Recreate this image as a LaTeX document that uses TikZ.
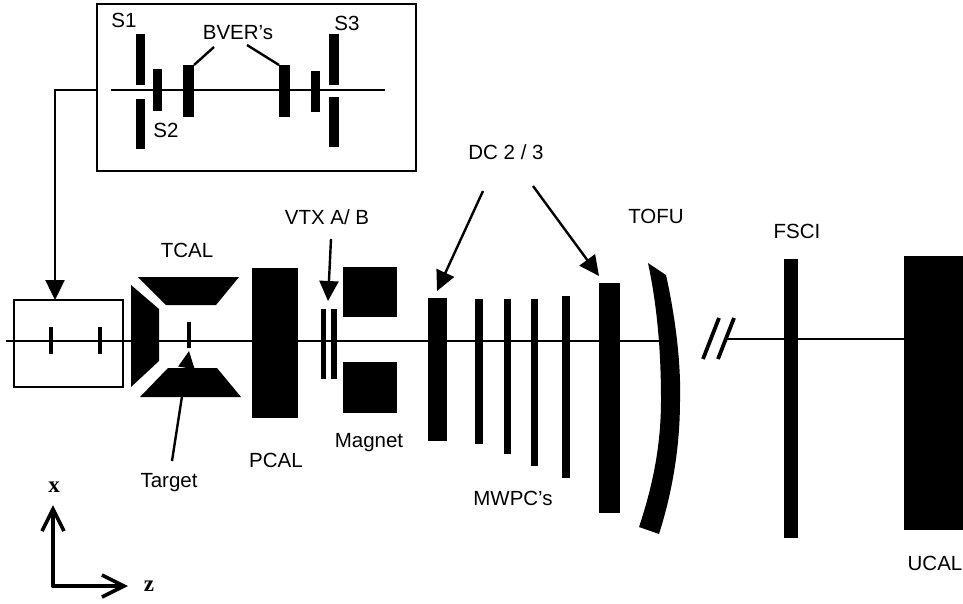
\documentclass[tikz,border=0pt]{standalone}
\usepackage{fontspec}
\setmainfont{Liberation Sans}
\newfontfamily\axisfont{Liberation Serif}
\usetikzlibrary{arrows.meta}
\newcommand{\slab}[5]{%
  \pgfmathsetmacro{\slabcx}{(#2+#4)/2}%
  \pgfmathsetmacro{\slabcy}{(#3+#5)/2}%
  \pgfmathsetmacro{\slabw}{#4-#2}%
  \pgfmathsetmacro{\slabh}{#5-#3}%
  \node[slabnode,minimum width=\slabw pt,minimum height=\slabh pt] (#1) at (\slabcx,\slabcy) {};%
}
\tikzset{
  slabnode/.style={fill=black,draw=none,inner sep=0pt,outer sep=0pt},
  lbl/.style={inner sep=0pt,font=\fontsize{20.5}{23}\selectfont},
  axlbl/.style={inner sep=0pt,font=\axisfont\bfseries\fontsize{23}{25}\selectfont},
  wire/.style={line width=2.4pt},
  headed/.style={line width=2.4pt,-{Triangle[length=20pt,width=19pt]}},
  axisarrow/.style={line width=3.6pt,line cap=round,-{Straight Barb[length=22pt,width=22pt,line width=3.6pt]}},
  framebox/.style={draw=black,line width=2.4pt,fill=none,inner sep=0pt,outer sep=0pt}
}
\begin{document}
\begin{tikzpicture}[x=1pt,y=-1pt]
\useasboundingbox (0,0) rectangle (963,603);
% inset frame
\node[framebox,minimum width=319pt,minimum height=167pt] (inset) at (256.5,87.5) {};
\coordinate (insetL) at (97,90);
\coordinate (beamA) at (111,90);
\coordinate (beamB) at (385,90);
\draw[wire] (beamA) -- (beamB);
\slab{sOneA}{136}{34}{145}{85}
\slab{sOneB}{136}{99}{145}{149}
\slab{sTwo}{153}{69}{162}{111}
\slab{bverL}{183}{65}{194}{117}
\slab{bverR}{279}{65}{290}{117}
\slab{sFour}{311}{71}{320}{112}
\slab{sThreeA}{329}{34}{339}{85}
\slab{sThreeB}{329}{97}{339}{147}
\node[lbl] (lSone) at (124,20) {S1};
\node[lbl] (lSthree) at (347,23) {S3};
\node[lbl] (lBver) at (238,33) {BVER's};
\node[lbl] (lStwo) at (166,130) {S2};
\coordinate (bvLa) at (214,47);
\coordinate (bvRa) at (247,45);
\draw[wire] (bvLa) -- (bverL.north east);
\draw[wire] (bvRa) -- (bverR.north west);
% upstream box
\node[framebox,minimum width=109pt,minimum height=87pt] (ubox) at (68.5,343.5) {};
\coordinate (bendA) at (55,90);
\coordinate (uboxTop) at (55,300);
\draw[headed] (insetL) -- (bendA) -- (uboxTop);
% main beam
\coordinate (mainA) at (6,341);
\coordinate (mainB) at (660,341);
\draw[wire] (mainA) -- (mainB);
\coordinate (mainC) at (727,339);
\coordinate (mainD) at (905,339);
\draw[wire] (mainC) -- (mainD);
\slab{uA}{49}{327}{53}{354}
\slab{uB}{98}{327}{102}{354}
\slab{target}{187}{322}{191}{348}
% TCAL
\fill (138,277) -- (239,277) -- (216,305) -- (166,305) -- cycle;
\fill (131,285) -- (159,309) -- (159,361) -- (131,387) -- cycle;
\fill (140,397) -- (241,397) -- (217,368) -- (168,368) -- cycle;
\node[lbl] (lTcal) at (187,250) {TCAL};
% target arrow
\coordinate (tgtA) at (172,461);
\coordinate (tgtB) at (189,351);
\draw[line width=2.4pt,-{Triangle[length=17pt,width=16pt]}] (tgtA) -- (tgtB);
\node[lbl] (lTarget) at (169,483) {Target};
% PCAL, VTX, magnet
\slab{pcal}{252}{268}{298}{418}
\node[lbl] (lPcal) at (276,460) {PCAL};
\slab{vtxA}{321}{309}{326}{379}
\slab{vtxB}{331}{309}{337}{379}
\node[lbl] (lVtx) at (327,217) {VTX A/ B};
\coordinate (vtxT) at (331,239);
\coordinate (vtxH) at (328,301);
\draw[headed] (vtxT) -- (vtxH);
\slab{magA}{343}{267}{397}{317}
\slab{magB}{343}{362}{397}{413}
\node[lbl] (lMag) at (369,443) {Magnet};
% DC and MWPC
\slab{dcOne}{428}{298}{447}{441}
\slab{mA}{475}{299}{483}{444}
\slab{mB}{504}{299}{511}{454}
\slab{mC}{531}{299}{538}{466}
\slab{mD}{562}{296}{570}{478}
\slab{dcTwo}{599}{283}{620}{513}
\node[lbl] (lDc) at (506,152) {DC 2 / 3};
\node[lbl] (lMw) at (513,498) {MWPC's};
\coordinate (dcLa) at (483,191);
\coordinate (dcLb) at (437,291);
\coordinate (dcRa) at (533,186);
\coordinate (dcRb) at (599,276);
\draw[headed] (dcLa) -- (dcLb);
\draw[headed] (dcRa) -- (dcRb);
% TOFU
\fill (648,263) -- (666,275) .. controls (676,320) and (681,365) .. (680,400)
  .. controls (680,445) and (673,490) .. (659,534) -- (639,527)
  .. controls (653,485) and (661,445) .. (661,400)
  .. controls (661,350) and (657,305) .. cycle;
\node[lbl] (lTofu) at (656,216) {TOFU};
% break mark
\coordinate (brA) at (719,318);
\coordinate (brB) at (703,359);
\coordinate (brC) at (734,318);
\coordinate (brD) at (718,359);
\draw[line width=3.8pt] (brA) -- (brB);
\draw[line width=3.8pt] (brC) -- (brD);
% FSCI, UCAL
\slab{fsci}{784}{259}{798}{538}
\node[lbl] (lFsci) at (797,231) {FSCI};
\slab{ucal}{904}{256}{963}{530}
\node[lbl] (lUcal) at (935,563) {UCAL};
% axes
\coordinate (axO) at (53,586);
\coordinate (axX) at (53,505);
\coordinate (axZ) at (128,586);
\draw[axisarrow] (axO) -- (axX);
\draw[axisarrow] (axO) -- (axZ);
\node[axlbl] (lX) at (54,487) {x};
\node[axlbl] (lZ) at (149,586) {z};
\end{tikzpicture}
\end{document}
